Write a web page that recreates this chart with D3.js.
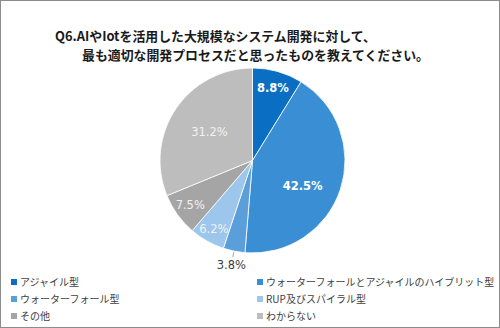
<!DOCTYPE html>
<html><head><meta charset="utf-8">
<script src="https://cdn.jsdelivr.net/npm/d3@7"></script>
<style>
html,body{margin:0;padding:0;background:#fff;}
svg{display:block;}
</style></head>
<body><svg id="c" width="500" height="328"></svg>
<script>
const titleLines = ["Q6.AIやIotを活用した大規模なシステム開発に対して、", "最も適切な開発プロセスだと思ったものを教えてください。"];
const categories = ["アジャイル型", "ウォーターフォールとアジャイルのハイブリット型", "ウォーターフォール型", "RUP及びスパイラル型", "その他", "わからない"];
const values = [8.8, 42.5, 3.8, 6.2, 7.5, 31.2];
const colors = ["#0A6FC2", "#3A8ED4", "#5B9FDA", "#9CC6EB", "#A5A5A5", "#BDBDBD"];
const labelRadius = [0.81, 0.61, 1.15, 0.85, 0.83, 0.56];
const labelPos = [0.5, 0.56, 0.5, 0.5, 0.5, 0.5];
const labelColor = ["#fff", "#fff", "#404040", "#f2f2f2", "#f2f2f2", "#f2f2f2"];
const labelBold = [true, true, false, false, false, false];

const svg = d3.select("#c");
svg.append("rect").attr("x",0.5).attr("y",0.5).attr("width",499).attr("height",327)
  .attr("fill","#fff").attr("stroke","#8c8c8c").attr("stroke-width",1);

const tf = "'Noto Sans CJK JP','Noto Sans',sans-serif";
const tx = [55, 82];
titleLines.forEach((t,i)=>{
  svg.append("text").attr("x",tx[i]).attr("y",41+i*18.8)
    .attr("font-family",tf).attr("font-weight","bold").attr("font-size",12.9)
    .attr("fill","#1a1a1a").text(t);
});

const cx = 252.5, cy = 160.5, R = 92.5;
const pie = d3.pie().sort(null).value(d=>d)(values);
const arc = d3.arc().innerRadius(0).outerRadius(R);
const g = svg.append("g").attr("transform",`translate(${cx},${cy})`);
g.selectAll("path").data(pie).join("path")
  .attr("d",arc).attr("fill",(d,i)=>colors[i])
  .attr("stroke","#fff").attr("stroke-width",0.8);

pie.forEach((d,i)=>{
  const a = d.startAngle + (d.endAngle-d.startAngle)*labelPos[i];
  const r = R*labelRadius[i];
  const x = Math.sin(a)*r, y = -Math.cos(a)*r;
  if (labelRadius[i] > 1) {
    g.append("line")
      .attr("x1",Math.sin(a)*(R+1)).attr("y1",-Math.cos(a)*(R+1))
      .attr("x2",Math.sin(a)*(R+6)).attr("y2",-Math.cos(a)*(R+6))
      .attr("stroke","#a6a6a6").attr("stroke-width",1);
  }
  g.append("text").attr("x",x).attr("y",y).attr("dy","0.35em")
    .attr("text-anchor","middle")
    .attr("font-family","'DejaVu Sans',Verdana,sans-serif")
    .attr("font-size",11.5).attr("font-weight",labelBold[i]?"bold":"normal")
    .attr("fill",labelColor[i]).text(d3.format(".1f")(values[i])+"%");
});

const lx = [11, 257], ly = [282, 299, 316];
categories.forEach((c,i)=>{
  const col = i%2, row = Math.floor(i/2);
  const lg = svg.append("g").attr("transform",`translate(${lx[col]},${ly[row]})`);
  lg.append("rect").attr("x",0).attr("y",-3).attr("width",6).attr("height",6).attr("fill",colors[i]);
  lg.append("text").attr("x",9).attr("y",0).attr("dy","0.36em")
    .attr("font-family",tf).attr("font-size",10).attr("fill","#404040").text(c);
});
</script></body></html>
